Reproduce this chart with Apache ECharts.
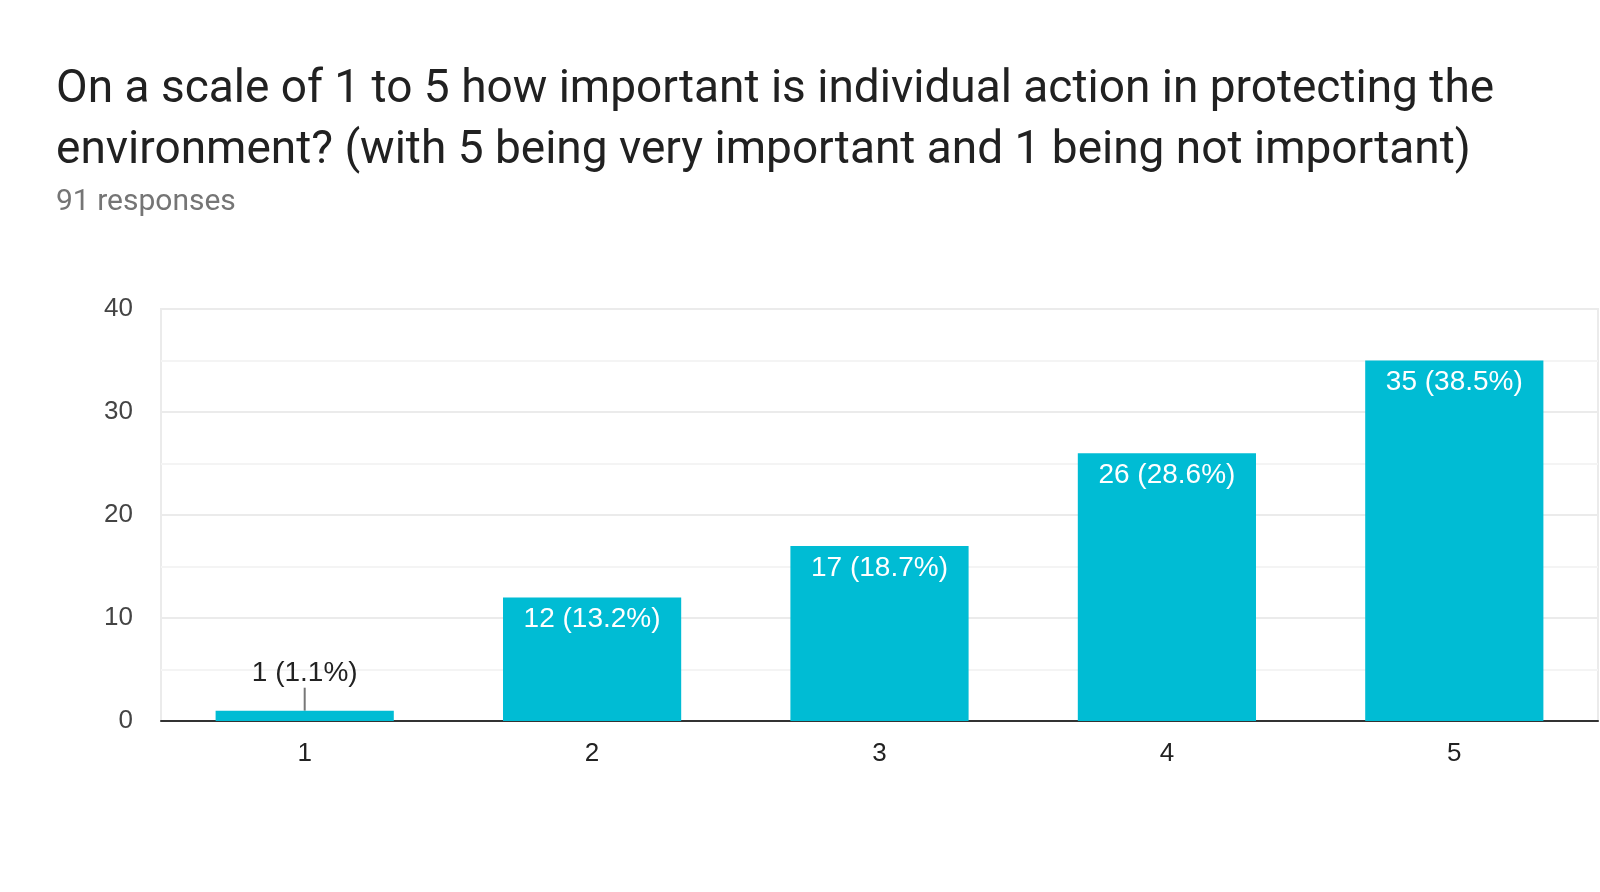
<!DOCTYPE html>
<html>
<head>
<meta charset="utf-8">
<script src="https://cdn.jsdelivr.net/npm/echarts@6/dist/echarts.min.js"></script>
<style>
html,body{margin:0;padding:0;background:#fff;}
#chart{width:1600px;height:892px;}
</style>
</head>
<body>
<div id="chart"></div>
<script>
const titleLines = [
  "On a scale of 1 to 5 how important is individual action in protecting the",
  "environment? (with 5 being very important and 1 being not important)"
];
const subtitle = "91 responses";
const categories = ["1", "2", "3", "4", "5"];
const counts = [1, 12, 17, 26, 35];
const percents = ["1.1", "13.2", "18.7", "28.6", "38.5"];
const yTicks = [0, 10, 20, 30, 40];

const chart = echarts.init(document.getElementById('chart'), null, {renderer: 'canvas'});
const SMALL = 3;

chart.setOption({
  animation: false,
  backgroundColor: '#fff',
  title: [
    {
      text: titleLines.join('\n'),
      left: 56, top: 60,
      padding: 0,
      textStyle: {fontFamily: 'Roboto', fontSize: 46, fontWeight: 'normal', color: '#212121', lineHeight: 61}
    },
    {
      text: subtitle,
      left: 56, top: 186,
      padding: 0,
      textStyle: {fontFamily: 'Roboto', fontSize: 30, fontWeight: 'normal', color: '#757575', lineHeight: 32}
    }
  ],
  grid: {
    left: 161, right: 2, top: 309, bottom: 171,
    show: true, borderColor: '#ebebeb', borderWidth: 2, backgroundColor: 'transparent'
  },
  xAxis: {
    type: 'category',
    data: categories,
    axisLine: {show: true, lineStyle: {color: '#333', width: 2}},
    axisTick: {show: false},
    axisLabel: {fontFamily: 'Liberation Sans, Arial', fontSize: 26, color: '#222', margin: 20},
    splitLine: {show: false}
  },
  yAxis: {
    type: 'value',
    min: yTicks[0], max: yTicks[yTicks.length - 1], interval: 10,
    axisLine: {show: false},
    axisTick: {show: false},
    axisLabel: {fontFamily: 'Liberation Sans, Arial', fontSize: 26, color: '#444', margin: 28},
    splitLine: {show: true, lineStyle: {color: '#ebebeb', width: 2}},
    minorTick: {show: false, splitNumber: 2},
    minorSplitLine: {show: true, lineStyle: {color: '#f4f4f4', width: 2}}
  },
  series: [{
    type: 'bar',
    data: counts.map((v, i) => ({
      value: v,
      label: v <= SMALL ? {position: 'top', color: '#222', distance: 5} : {}
    })),
    barWidth: '62%',
    itemStyle: {color: '#00bcd4'},
    label: {
      show: true,
      position: 'insideTop',
      distance: 8,
      fontFamily: 'Liberation Sans, Arial',
      fontSize: 28,
      color: '#fff',
      formatter: (p) => `${counts[p.dataIndex]} (${percents[p.dataIndex]}%)`
    },
    labelLayout: (p) => counts[p.dataIndex] <= SMALL ? {dy: -18} : {},
    labelLine: {show: true, lineStyle: {color: '#777', width: 2}}
  }]
});
</script>
</body>
</html>
